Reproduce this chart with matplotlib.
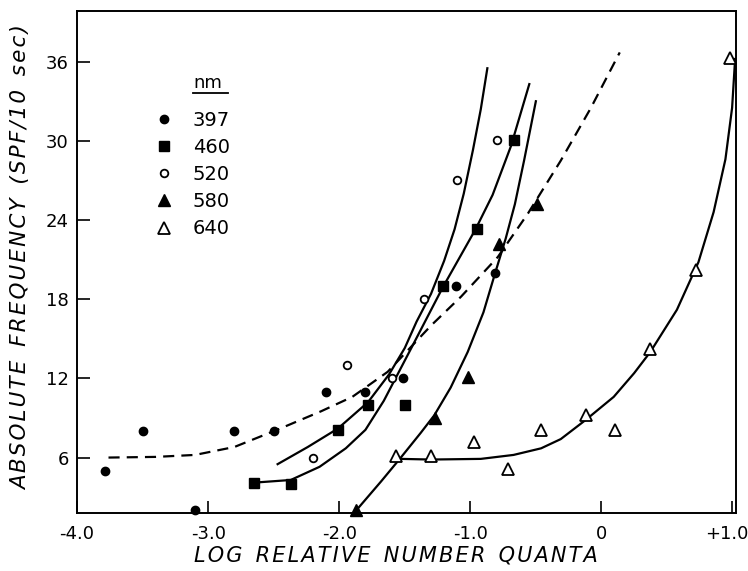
import matplotlib.pyplot as plt
from matplotlib.transforms import ScaledTranslation

x_397 = [-3.79, -3.50, -3.10, -2.80, -2.50, -2.10, -1.80, -1.51, -1.11, -0.81]
y_397 = [5.0, 8.0, 2.05, 8.0, 8.0, 11.0, 11.0, 12.0, 19.0, 20.0]

x_460 = [-2.65, -2.37, -2.01, -1.78, -1.50, -1.21, -0.95, -0.67]
y_460 = [4.1, 4.0, 8.1, 10.0, 10.0, 19.0, 23.3, 30.1]

x_520 = [-2.20, -1.94, -1.60, -1.35, -1.10, -0.80]
y_520 = [6.0, 13.0, 12.0, 18.0, 27.0, 30.1]

x_580 = [-1.87, -1.27, -1.02, -0.78, -0.49]
y_580 = [2.0, 9.0, 12.1, 22.2, 25.2]

x_640 = [-1.57, -1.30, -0.97, -0.71, -0.46, -0.12, 0.10, 0.37, 0.72, 0.98]
y_640 = [6.1, 6.1, 7.2, 5.1, 8.1, 9.2, 8.1, 14.2, 20.2, 36.3]

# hand drawn fitted curves
cx_397 = [-3.76, -3.40, -3.10, -2.80, -2.45, -2.14, -1.90, -1.63, -1.30, -1.07, -0.79, -0.56, -0.31, -0.08, 0.14]
cy_397 = [6.0, 6.05, 6.2, 6.8, 8.2, 9.5, 10.6, 12.5, 16.0, 18.2, 21.2, 24.5, 28.5, 32.5, 36.7]

cx_520 = [-2.47, -2.24, -2.01, -1.78, -1.62, -1.50, -1.41, -1.30, -1.20, -1.12, -1.05, -0.98, -0.92, -0.87]
cy_520 = [5.5, 6.8, 8.2, 10.2, 12.3, 14.3, 16.3, 18.4, 20.9, 23.3, 26.0, 29.3, 32.4, 35.5]

cx_460 = [-2.65, -2.37, -2.15, -1.95, -1.80, -1.66, -1.45, -1.21, -0.96, -0.83, -0.69, -0.55]
cy_460 = [4.1, 4.3, 5.3, 6.7, 8.1, 10.3, 14.3, 18.9, 23.3, 25.9, 29.6, 34.3]

cx_580 = [-1.87, -1.68, -1.53, -1.38, -1.275, -1.15, -1.02, -0.90, -0.81, -0.73, -0.66, -0.59, -0.54, -0.50]
cy_580 = [2.0, 4.2, 6.0, 7.85, 9.2, 11.3, 14.0, 17.0, 20.0, 22.6, 25.2, 28.5, 31.0, 33.0]

cx_640 = [-1.53, -1.30, -0.92, -0.67, -0.46, -0.31, -0.12, 0.094, 0.25, 0.373, 0.576, 0.74, 0.856, 0.946, 0.997, 1.02]
cy_640 = [5.9, 5.85, 5.9, 6.2, 6.7, 7.4, 8.85, 10.6, 12.4, 14.0, 17.2, 20.8, 24.6, 28.6, 32.5, 36.2]

xticks = [-4, -3, -2, -1, 0, 1]
xtick_labels = ['-4.0', '-3.0', '-2.0', '-1.0', '0', '+1.0']
yticks = [6, 12, 18, 24, 30, 36]


def spaced(s):
    # wide lettering like the original, hair space between letters
    return '\u200a'.join(s)


fig = plt.figure(figsize=(7.48, 5.71), dpi=100)
ax = fig.add_axes([0.103, 0.1016, 0.881, 0.8794])

# curves
ax.plot(cx_397, cy_397, color='black', lw=1.6, linestyle=(0, (5, 3.2)))
for cx, cy in [(cx_520, cy_520), (cx_460, cy_460), (cx_580, cy_580), (cx_640, cy_640)]:
    ax.plot(cx, cy, color='black', lw=1.6)

# data points
ax.plot(x_397, y_397, 'o', color='black', ms=6, clip_on=False, label='397')
ax.plot(x_460, y_460, 's', color='black', ms=7, clip_on=False, label='460')
ax.plot(x_520, y_520, 'o', mfc='white', mec='black', mew=1.3, ms=5.5, clip_on=False, label='520')
ax.plot(x_580, y_580, '^', color='black', ms=8, clip_on=False, label='580')
ax.plot(x_640, y_640, '^', mfc='white', mec='black', mew=1.3, ms=8.5, clip_on=False, label='640')

ax.set_xlim(-3.985, 1.027)
ax.set_ylim(1.8, 39.85)

ax.set_xticks(xticks)
ax.set_xticklabels(xtick_labels)
ax.set_yticks(yticks)
ax.tick_params(direction='in', length=9, width=1.2, labelsize=13)
ax.tick_params(axis='x', pad=9)
ax.tick_params(axis='y', pad=6)
for s in ax.spines.values():
    s.set_linewidth(1.4)
# nudge the last x label so it stays inside the picture
last = ax.get_xticklabels()[-1]
last.set_transform(last.get_transform() + ScaledTranslation(-6 / 100, 0, fig.dpi_scale_trans))

ax.set_xlabel('  '.join(spaced(w) for w in ['LOG', 'RELATIVE', 'NUMBER', 'QUANTA']),
              fontsize=15, style='italic')
ax.set_ylabel('  '.join(spaced(w) for w in ['ABSOLUTE', 'FREQUENCY', '(SPF/10', 'sec)']),
              fontsize=15.5, style='italic')
ax.xaxis.set_label_coords(0.484, -0.064)
ax.yaxis.set_label_coords(-0.07, 0.508)

ax.legend(loc='upper left', bbox_to_anchor=(0.09, 0.836), frameon=False,
          fontsize=14, handletextpad=1.0, labelspacing=0.42, handlelength=1.0)
ax.text(0.199, 0.857, 'nm', transform=ax.transAxes, fontsize=13, ha='center', va='center')
ax.plot([0.176, 0.229], [0.837, 0.837], transform=ax.transAxes, color='black', lw=1.3)

plt.savefig('out.png', dpi=100)
